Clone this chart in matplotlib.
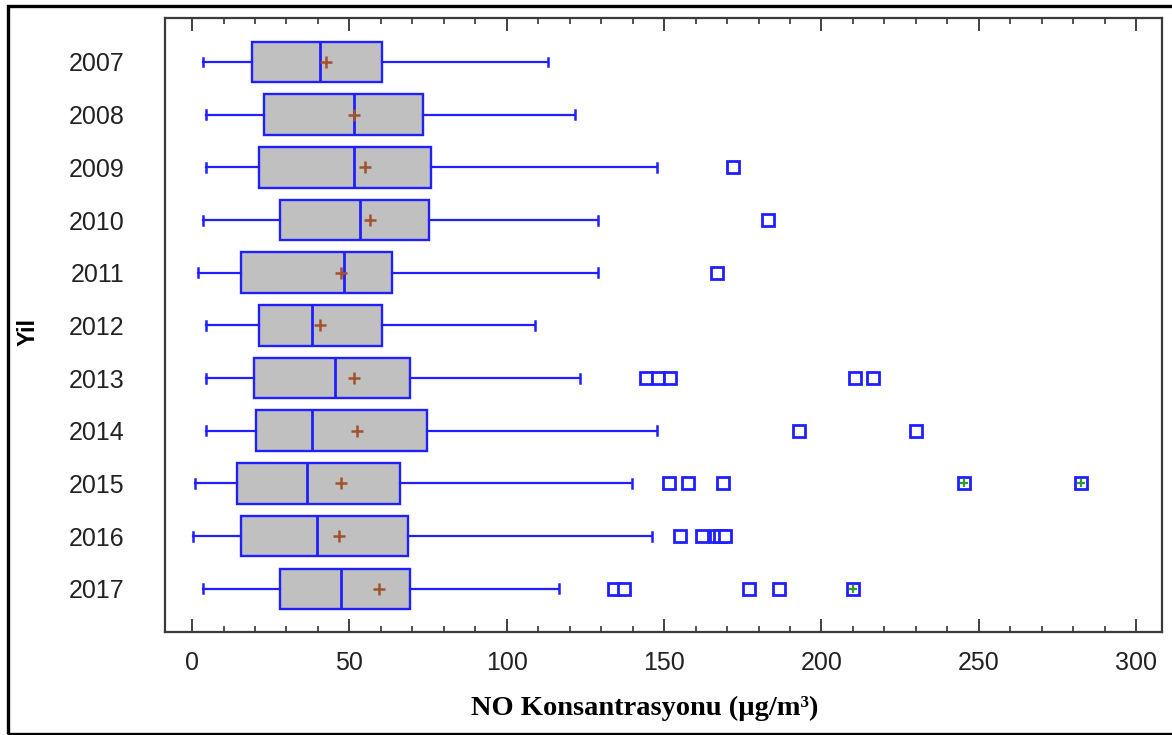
import matplotlib
matplotlib.use("Agg")
import matplotlib.pyplot as plt
from matplotlib import font_manager
from matplotlib.patches import Rectangle
from matplotlib.ticker import MultipleLocator

# ---- data ----
years = ["2007", "2008", "2009", "2010", "2011", "2012", "2013", "2014", "2015", "2016", "2017"]
whislo = [3.5, 4.5, 4.5, 3.5, 2.0, 4.5, 4.5, 4.5, 1.0, 0.2, 3.5]
q1 = [18.9, 22.9, 21.4, 28.1, 15.6, 21.4, 19.6, 20.3, 14.4, 15.6, 28.1]
medians = [40.8, 51.5, 51.5, 53.4, 48.2, 38.2, 45.5, 38.2, 36.4, 39.6, 47.4]
means = [42.5, 51.3, 55.0, 56.6, 47.3, 40.8, 51.5, 52.5, 47.4, 46.6, 59.3]
q3 = [60.3, 73.3, 75.9, 75.2, 63.6, 60.2, 69.3, 74.5, 66.1, 68.6, 69.3]
whishi = [113.2, 121.8, 147.7, 128.9, 128.9, 109.0, 123.2, 147.8, 139.9, 146.1, 116.5]
outliers = [
    [], [], [172.0], [182.9], [166.9], [],
    [144.2, 148.0, 151.9, 210.7, 216.5],
    [193.0, 230.0],
    [151.7, 157.7, 168.6, 245.3, 282.4],
    [155.1, 162.0, 166.4, 167.8, 169.3],
    [134.1, 137.3, 177.0, 186.4, 209.9],
]
far_out_years = ["2015", "2015", "2017"]
far_out_values = [245.3, 282.4, 209.9]

xlabel = "NO Konsantrasyonu (µg/m³)"
ylabel = "Yil"

# ---- fonts ----
avail = {f.name for f in font_manager.fontManager.ttflist}
tick_font = "Liberation Sans Narrow" if "Liberation Sans Narrow" in avail else "Liberation Sans"
tick_size = 20 if tick_font == "Liberation Sans Narrow" else 18

W, H = 1172, 735
fig = plt.figure(figsize=(W / 100, H / 100), dpi=100)
ax = fig.add_axes([165 / W, 1 - 632 / H, (1162 - 165) / W, (632 - 18) / H])

blue = "#1f1fff"
stats = []
for i, y in enumerate(years):
    stats.append(dict(label=y, whislo=whislo[i], q1=q1[i], med=medians[i],
                      q3=q3[i], whishi=whishi[i], mean=means[i], fliers=outliers[i]))

positions = list(range(len(years)))
ax.bxp(stats, positions=positions, orientation="horizontal", widths=0.77,
       capwidths=0.17, patch_artist=True, showmeans=True, showfliers=True,
       boxprops=dict(facecolor="#c0c0c0", edgecolor=blue, linewidth=1.7),
       medianprops=dict(color=blue, linewidth=2.0),
       whiskerprops=dict(color=blue, linewidth=1.6),
       capprops=dict(color=blue, linewidth=1.8),
       flierprops=dict(marker="s", markerfacecolor="white", markeredgecolor=blue,
                       markersize=8.5, markeredgewidth=2.0),
       meanprops=dict(marker="+", markeredgecolor="#a0522d", markersize=8.5,
                      markeredgewidth=1.8))

far_pos = [years.index(y) for y in far_out_years]
ax.plot(far_out_values, far_pos, linestyle="none", marker="+", color="#2ca02c",
        markersize=6, markeredgewidth=1.6, zorder=5)

ax.set_xlim(-8.6, 308.2)
ax.set_ylim(10.82, -0.835)

ax.xaxis.set_major_locator(MultipleLocator(50))
ax.xaxis.set_minor_locator(MultipleLocator(10))
ax.tick_params(axis="x", which="both", direction="in", top=True, bottom=True,
               labeltop=False, color="#333333")
ax.tick_params(axis="x", which="major", length=9.5, width=1.3, pad=14,
               labelsize=tick_size, labelcolor="#222222")
ax.tick_params(axis="x", which="minor", length=4.5, width=1.2)
ax.tick_params(axis="y", which="both", length=0, pad=29, labelsize=tick_size,
               labelcolor="#222222")
ax.set_yticks(positions)
ax.set_yticklabels(years)
for lab in ax.get_xticklabels() + ax.get_yticklabels():
    lab.set_fontfamily(tick_font)

for s in ax.spines.values():
    s.set_color("#3a3a3a")
    s.set_linewidth(1.6)

ax.set_xlabel(xlabel, fontfamily="Liberation Serif", fontweight="bold", fontsize=20.5)
ax.xaxis.label.set_va("center")
ax.xaxis.set_label_coords(0.481, -0.124)
ax.set_ylabel(ylabel, fontfamily="Liberation Sans", fontweight="bold", fontsize=17)
ax.yaxis.label.set_va("center")
ax.yaxis.set_label_coords(-0.1374, 0.488)

# outer black frame of the picture
fig.add_artist(Rectangle((7.5 / W, 1 / H), 1.2, 1 - 7 / H, transform=fig.transFigure,
                         fill=False, edgecolor="black", linewidth=2.4, clip_on=False))

fig.savefig("out.png", dpi=100)
